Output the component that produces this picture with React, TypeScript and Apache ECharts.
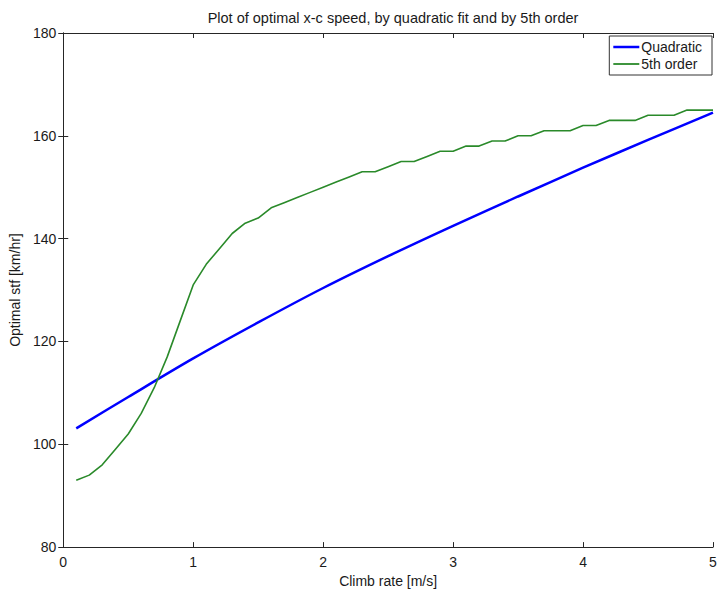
import React, { useEffect, useRef } from "react";
import * as echarts from "echarts";

const TITLE = "Plot of optimal x-c speed, by quadratic fit and by 5th order";
const X_LABEL = "Climb rate [m/s]";
const Y_LABEL = "Optimal stf [km/hr]";

const quadX = [0.1, 0.5, 1.0, 1.5, 2.0, 2.5, 3.0, 3.5, 4.0, 4.5, 5.0];
const quadY = [103.1, 109.2, 116.7, 123.7, 130.4, 136.6, 142.5, 148.2, 153.8, 159.2, 164.5];

const fifthX = [
  0.1, 0.2, 0.3, 0.4, 0.5, 0.6, 0.7, 0.8, 0.9, 1.0,
  1.1, 1.2, 1.3, 1.4, 1.5, 1.6, 1.7, 1.8, 1.9, 2.0,
  2.1, 2.2, 2.3, 2.4, 2.5, 2.6, 2.7, 2.8, 2.9, 3.0,
  3.1, 3.2, 3.3, 3.4, 3.5, 3.6, 3.7, 3.8, 3.9, 4.0,
  4.1, 4.2, 4.3, 4.4, 4.5, 4.6, 4.7, 4.8, 4.9, 5.0,
];
const fifthY = [
  93, 94, 96, 99, 102, 106, 111, 117, 124, 131,
  135, 138, 141, 143, 144, 146, 147, 148, 149, 150,
  151, 152, 153, 153, 154, 155, 155, 156, 157, 157,
  158, 158, 159, 159, 160, 160, 161, 161, 161, 162,
  162, 163, 163, 163, 164, 164, 164, 165, 165, 165,
];

const FONT = "'Liberation Sans', Arial, Helvetica, sans-serif";
const AXIS_COLOR = "#262626";
const TEXT_COLOR = "#1a1a1a";
const BLUE = "#0000ff";
const GREEN = "#2a8a2a";

export default function App() {
  const ref = useRef<HTMLDivElement>(null);

  useEffect(() => {
    if (!ref.current) return;
    const chart = echarts.init(ref.current, null, { renderer: "svg" });
    const tickStyle = { show: true, inside: true, length: 5, lineStyle: { color: AXIS_COLOR, width: 1 } };
    const lineStyle = { color: AXIS_COLOR, width: 1 };
    const textStyle = { fontFamily: FONT, fontSize: 14, color: TEXT_COLOR };
    chart.setOption({
      animation: false,
      backgroundColor: "#ffffff",
      title: {
        text: TITLE,
        left: 388,
        top: 5,
        textAlign: "center",
        textStyle: { ...textStyle, fontSize: 14.5, fontWeight: "normal" },
      },
      grid: { left: 62, right: 12, top: 33, bottom: 45, containLabel: false },
      legend: {
        orient: "vertical",
        right: 13,
        top: 36,
        itemWidth: 26,
        itemHeight: 14,
        itemGap: 3,
        padding: [4, 10, 4, 4],
        borderColor: "#333",
        borderWidth: 1,
        backgroundColor: "#fff",
        textStyle: { ...textStyle, padding: [0, 0, 0, -3] },
        data: [
          { name: "Quadratic", icon: "path://M0 0H26V2.5H0Z", itemStyle: { color: BLUE } },
          { name: "5th order", icon: "path://M0 0H26V1.8H0Z", itemStyle: { color: GREEN } },
        ],
      },
      xAxis: [
        {
          type: "value",
          min: 0,
          max: 5,
          interval: 1,
          name: X_LABEL,
          nameLocation: "middle",
          nameGap: 25,
          nameTextStyle: textStyle,
          axisLine: { show: true, lineStyle },
          axisTick: tickStyle,
          axisLabel: { ...textStyle, margin: 8 },
          splitLine: { show: false },
        },
        {
          type: "value",
          position: "top",
          min: 0,
          max: 5,
          interval: 1,
          axisLine: { show: true, lineStyle },
          axisTick: tickStyle,
          axisLabel: { show: false },
          splitLine: { show: false },
        },
      ],
      yAxis: [
        {
          type: "value",
          min: 80,
          max: 180,
          interval: 20,
          name: Y_LABEL,
          nameLocation: "middle",
          nameGap: 37,
          nameTextStyle: textStyle,
          axisLine: { show: true, lineStyle },
          axisTick: tickStyle,
          axisLabel: { ...textStyle, margin: 7 },
          splitLine: { show: false },
        },
        {
          type: "value",
          position: "right",
          min: 80,
          max: 180,
          interval: 20,
          axisLine: { show: true, lineStyle },
          axisTick: tickStyle,
          axisLabel: { show: false },
          splitLine: { show: false },
        },
      ],
      series: [
        {
          name: "Quadratic",
          type: "line",
          showSymbol: false,
          symbol: "none",
          smooth: 0.3,
          lineStyle: { color: BLUE, width: 2.5 },
          itemStyle: { color: BLUE },
          data: quadX.map((x, i) => [x, quadY[i]]),
        },
        {
          name: "5th order",
          type: "line",
          showSymbol: false,
          symbol: "none",
          lineStyle: { color: GREEN, width: 1.6 },
          itemStyle: { color: GREEN },
          data: fifthX.map((x, i) => [x, fifthY[i]]),
        },
      ],
    });
    return () => chart.dispose();
  }, []);

  return (
    <div
      ref={ref}
      style={{ position: "fixed", left: 0, top: 0, width: 725, height: 593, background: "#fff" }}
    />
  );
}
